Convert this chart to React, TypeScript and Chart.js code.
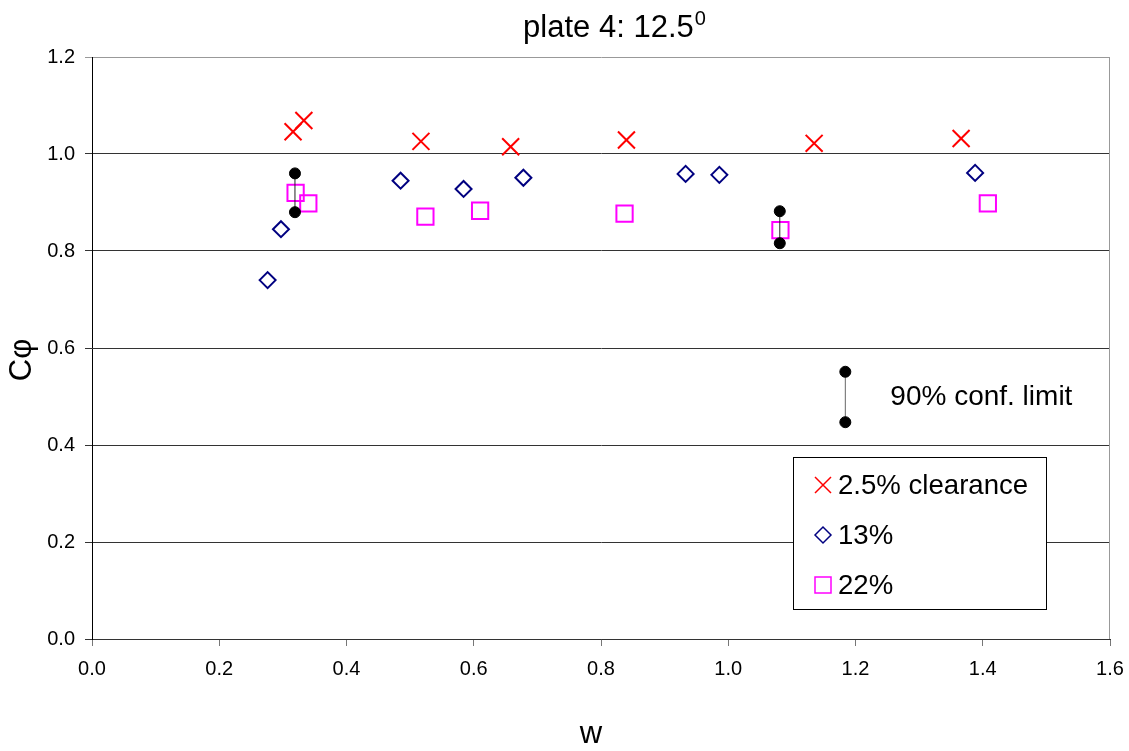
import React, { useEffect, useRef } from "react";
import { Chart, registerables } from "chart.js";
Chart.register(...registerables);

const FONT = "'Liberation Sans', Arial, sans-serif";

// ---- data ----
const xTicks = [0.0, 0.2, 0.4, 0.6, 0.8, 1.0, 1.2, 1.4, 1.6];
const yTicks = [0.0, 0.2, 0.4, 0.6, 0.8, 1.0, 1.2];

const clear25X = [0.316, 0.333, 0.517, 0.658, 0.84, 1.135, 1.366];
const clear25Y = [1.046, 1.069, 1.026, 1.015, 1.029, 1.022, 1.032];

const clear13X = [0.276, 0.297, 0.485, 0.584, 0.678, 0.933, 0.986, 1.388];
const clear13Y = [0.74, 0.845, 0.945, 0.928, 0.951, 0.959, 0.957, 0.961];

const clear22X = [0.32, 0.34, 0.524, 0.61, 0.837, 1.082, 1.408];
const clear22Y = [0.92, 0.898, 0.871, 0.883, 0.877, 0.843, 0.898];

const errX = [0.319, 1.081];
const errLow = [0.88, 0.816];
const errHigh = [0.96, 0.882];

const confX = [1.184];
const confLow = [0.447];
const confHigh = [0.551];

const legendLabels = ["2.5% clearance", "13%", "22%"];
const confLabel = "90% conf. limit";
const titleMain = "plate 4: 12.5";
const titleSup = "0";
const yTitle = "Cφ";
const xTitle = "w";

const pts = (xs: number[], ys: number[]) => xs.map((x, i) => ({ x, y: ys[i] }));

const RED = "#FF0000";
const NAVY = "#000080";
const MAGENTA = "#FF00FF";

export default function App() {
  const ref = useRef<HTMLCanvasElement>(null);

  useEffect(() => {
    const canvas = ref.current;
    if (!canvas) return;

    const barSet = (x: number, lo: number, hi: number, color: string, label: string) => ({
      type: "line",
      label,
      data: [
        { x, y: lo },
        { x, y: hi },
      ],
      showLine: true,
      borderColor: color,
      borderWidth: 1,
      pointRadius: 5.5,
      pointBackgroundColor: "#000",
      pointBorderColor: "#000",
      pointBorderWidth: 1,
      order: 0,
    });
    const errSets: any[] = errX.map((x, i) => barSet(x, errLow[i], errHigh[i], "#222", "err" + i));
    const confSets: any[] = confX.map((x, i) => barSet(x, confLow[i], confHigh[i], "#666", "conf" + i));

    const decor = {
      id: "decor",
      afterDraw(chart: any) {
        const ctx = chart.ctx as CanvasRenderingContext2D;
        const ca = chart.chartArea;
        const xs = chart.scales.x;
        const ys = chart.scales.y;
        ctx.save();
        // right border
        ctx.strokeStyle = "#999";
        ctx.lineWidth = 1;
        ctx.beginPath();
        ctx.moveTo(Math.round(ca.right) - 0.5, ca.top);
        ctx.lineTo(Math.round(ca.right) - 0.5, ca.bottom);
        ctx.stroke();

        // title
        ctx.fillStyle = "#000";
        ctx.textBaseline = "alphabetic";
        ctx.textAlign = "left";
        ctx.font = `31px ${FONT}`;
        const wMain = ctx.measureText(titleMain).width;
        ctx.font = `20px ${FONT}`;
        const wSup = ctx.measureText(titleSup).width;
        const tx = 614 - (wMain + wSup) / 2;
        ctx.font = `31px ${FONT}`;
        ctx.fillText(titleMain, tx, 37);
        ctx.font = `20px ${FONT}`;
        ctx.fillText(titleSup, tx + wMain + 1, 25);

        // y title
        ctx.save();
        ctx.translate(31, 360);
        ctx.rotate(-Math.PI / 2);
        ctx.font = `31px ${FONT}`;
        ctx.textAlign = "center";
        ctx.fillText(yTitle, 0, 0);
        ctx.restore();

        // x title
        ctx.font = `31px ${FONT}`;
        ctx.textAlign = "center";
        ctx.fillText(xTitle, 591, 743);

        // conf label
        ctx.font = `28px ${FONT}`;
        ctx.textAlign = "left";
        ctx.textBaseline = "middle";
        const confMid = ys.getPixelForValue((confLow[0] + confHigh[0]) / 2);
        ctx.fillText(confLabel, xs.getPixelForValue(confX[0]) + 45, confMid);

        // legend box
        const lx = 793.5,
          ly = 457.5,
          lw = 253,
          lh = 152;
        ctx.fillStyle = "#fff";
        ctx.fillRect(lx, ly, lw, lh);
        ctx.strokeStyle = "#000";
        ctx.lineWidth = 1;
        ctx.strokeRect(lx, ly, lw, lh);

        const mx = 823;
        const rows = [485, 535, 585];
        ctx.lineWidth = 1.5;
        // X
        ctx.strokeStyle = RED;
        ctx.beginPath();
        ctx.moveTo(mx - 8, rows[0] - 8);
        ctx.lineTo(mx + 8, rows[0] + 8);
        ctx.moveTo(mx + 8, rows[0] - 8);
        ctx.lineTo(mx - 8, rows[0] + 8);
        ctx.stroke();
        // diamond
        ctx.strokeStyle = NAVY;
        ctx.beginPath();
        ctx.moveTo(mx - 8, rows[1]);
        ctx.lineTo(mx, rows[1] - 8);
        ctx.lineTo(mx + 8, rows[1]);
        ctx.lineTo(mx, rows[1] + 8);
        ctx.closePath();
        ctx.stroke();
        // square
        ctx.strokeStyle = MAGENTA;
        ctx.strokeRect(mx - 8, rows[2] - 8, 16, 16);

        ctx.fillStyle = "#000";
        ctx.font = `27.6px ${FONT}`;
        ctx.textAlign = "left";
        ctx.textBaseline = "middle";
        legendLabels.forEach((t, i) => ctx.fillText(t, 838, rows[i] + 1));
        ctx.restore();
      },
    };

    const chart = new Chart(canvas, {
      type: "scatter",
      data: {
        datasets: [
          ...errSets,
          ...confSets,
          {
            label: legendLabels[0],
            data: pts(clear25X, clear25Y),
            pointStyle: "crossRot",
            pointRadius: 12,
            borderColor: RED,
            backgroundColor: RED,
            pointBorderWidth: 2,
            order: 3,
          },
          {
            label: legendLabels[1],
            data: pts(clear13X, clear13Y),
            pointStyle: "rectRot",
            pointRadius: 8,
            borderColor: NAVY,
            backgroundColor: "rgba(0,0,0,0)",
            pointBorderWidth: 2,
            order: 2,
          },
          {
            label: legendLabels[2],
            data: pts(clear22X, clear22Y),
            pointStyle: "rect",
            pointRadius: 11.5,
            borderColor: MAGENTA,
            backgroundColor: "rgba(0,0,0,0)",
            pointBorderWidth: 2,
            order: 1,
          },
        ] as any,
      },
      options: {
        animation: false,
        responsive: false,
        devicePixelRatio: 1,
        layout: { padding: { top: 57, right: 19, bottom: 0, left: 0 } },
        plugins: {
          legend: { display: false },
          tooltip: { enabled: false },
          title: { display: false },
        },
        scales: {
          x: {
            type: "linear",
            min: xTicks[0],
            max: xTicks[xTicks.length - 1],
            afterBuildTicks: (s: any) => {
              s.ticks = xTicks.map((v) => ({ value: v }));
            },
            afterFit: (s: any) => {
              s.height = 112;
              s.paddingLeft = 0;
              s.paddingRight = 0;
            },
            ticks: {
              font: { family: FONT, size: 20 },
              color: "#000",
              padding: 11,
              maxRotation: 0,
              callback: (v: any) => Number(v).toFixed(1),
            },
            grid: {
              drawOnChartArea: false,
              drawTicks: true,
              tickLength: 7,
              color: "#777",
            },
            border: { color: "#333", width: 1 },
          },
          y: {
            type: "linear",
            min: yTicks[0],
            max: yTicks[yTicks.length - 1],
            afterBuildTicks: (s: any) => {
              s.ticks = yTicks.map((v) => ({ value: v }));
            },
            afterFit: (s: any) => {
              s.width = 92;
              s.paddingTop = 0;
              s.paddingBottom = 0;
            },
            ticks: {
              font: { family: FONT, size: 20 },
              color: "#000",
              padding: 10,
              callback: (v: any) => Number(v).toFixed(1),
            },
            grid: {
              drawTicks: true,
              tickLength: 7,
              color: (c: any) => (c.tick && c.tick.value > 1.19 ? "#999" : "#333"),
            },
            border: { color: "#000", width: 1 },
          },
        },
      } as any,
      plugins: [decor],
    });
    return () => chart.destroy();
  }, []);

  return (
    <div style={{ position: "fixed", left: 0, top: 0, width: 1129, height: 751, background: "#fff" }}>
      <canvas ref={ref} width={1129} height={751} style={{ display: "block", width: 1129, height: 751 }} />
    </div>
  );
}
